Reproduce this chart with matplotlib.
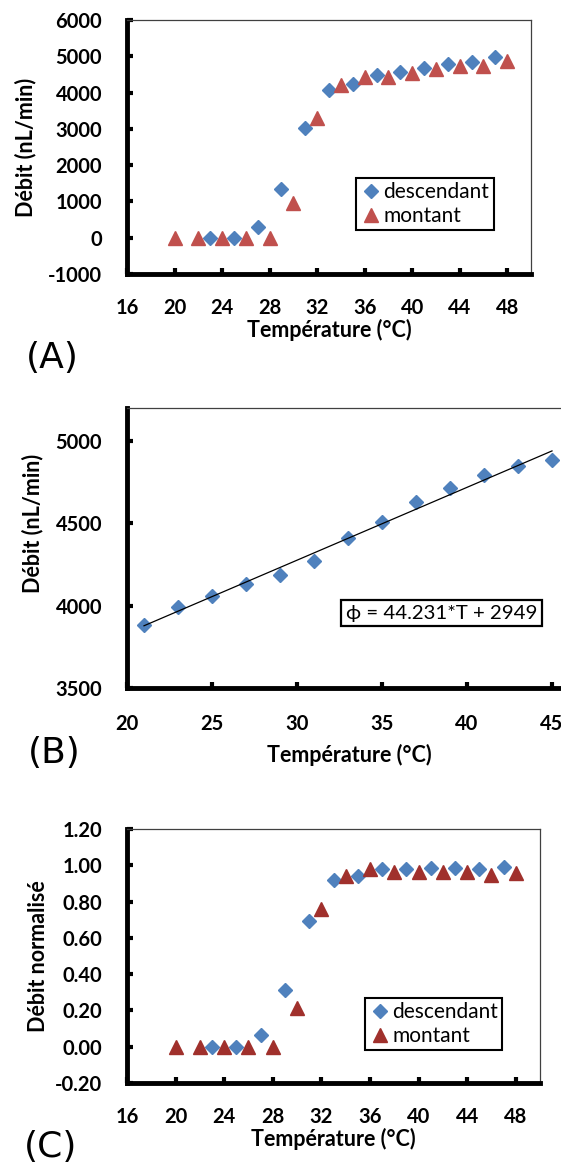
import matplotlib
matplotlib.use("Agg")
import matplotlib.pyplot as plt
import numpy as np

plt.rcParams['font.family'] = ['Lato', 'DejaVu Sans']
plt.rcParams['axes.unicode_minus'] = False

# (A) débit en fonction de la température
temp_desc = [23, 25, 27, 29, 31, 33, 35, 37, 39, 41, 43, 45, 47]
debit_desc = [0, 0, 300, 1330, 3030, 4060, 4240, 4480, 4580, 4670, 4780, 4850, 4990]
temp_mont = [20, 22, 24, 26, 28, 30, 32, 34, 36, 38, 40, 42, 44, 46, 48]
debit_mont = [0, 0, 0, 0, 0, 950, 3300, 4220, 4430, 4430, 4550, 4650, 4740, 4740, 4860]

# (B) zone linéaire + régression
temp_lin = [21, 23, 25, 27, 29, 31, 33, 35, 37, 39, 41, 43, 45]
debit_lin = [3880, 3990, 4060, 4130, 4185, 4270, 4410, 4510, 4630, 4715, 4795, 4850, 4885]
fit_slope, fit_intercept = 44.231, 2949
fit_label = "ϕ = 44.231*T + 2949"

# (C) débit normalisé
norm_desc = [0, 0, 0.066, 0.31, 0.695, 0.92, 0.94, 0.978, 0.98, 0.983, 0.983, 0.978, 0.99]
norm_mont = [0, 0, 0, 0, 0, 0.213, 0.758, 0.941, 0.978, 0.961, 0.961, 0.961, 0.961, 0.947, 0.956]

BLUE = "#4F81BD"
RED = "#C0504D"
DARKRED = "#A0302C"

W, H = 561, 1166
fig = plt.figure(figsize=(W / 100, H / 100), dpi=100)


def px_axes(left, top, right, bottom):
    return fig.add_axes([left / W, 1 - bottom / H, (right - left) / W, (bottom - top) / H])


def style_axes(ax, xpad=17, ypad=16):
    for side in ("left", "bottom"):
        ax.spines[side].set_linewidth(3.5)
        ax.spines[side].set_color("black")
    for side in ("top", "right"):
        ax.spines[side].set_linewidth(0.9)
        ax.spines[side].set_color("#404040")
    ax.tick_params(direction="in", length=4, width=3, top=False, right=False)
    ax.tick_params(axis="x", pad=xpad)
    ax.tick_params(axis="y", pad=ypad)
    for lab in ax.get_xticklabels() + ax.get_yticklabels():
        lab.set_fontweight("bold")
        lab.set_fontsize(14.5)


def set_labels(ax, xlabel, ylabel, xpos, ypos):
    ax.set_xlabel(xlabel, fontsize=15.5, fontweight="bold", va="center", ha="center")
    ax.set_ylabel(ylabel, fontsize=15.5, fontweight="bold", va="center", ha="center")
    ax.xaxis.set_label_coords(*xpos)
    ax.yaxis.set_label_coords(*ypos)


def add_legend(ax, anchor):
    leg = ax.legend(loc="upper left", bbox_to_anchor=anchor, borderaxespad=0,
                    fancybox=False, framealpha=1, edgecolor="black", fontsize=15,
                    handletextpad=0.1, handlelength=1.0, borderpad=0.2,
                    labelspacing=0.2)
    leg.get_frame().set_linewidth(1.5)


# ---- (A) ----
axA = px_axes(127, 20, 531, 274)
axA.plot(temp_desc, debit_desc, "D", color=BLUE, ms=7.5, label="descendant")
axA.plot(temp_mont, debit_mont, "^", color=RED, ms=10.5, label="montant")
axA.set_xlim(16, 50)
axA.set_ylim(-1000, 6000)
axA.set_xticks(range(16, 49, 4))
axA.set_yticks(range(-1000, 6001, 1000))
style_axes(axA, xpad=17, ypad=18)
set_labels(axA, "Température (°C)", "Débit (nL/min)",
           (0.5, -0.22), (-0.25, 0.5))
add_legend(axA, (0.568, 0.378))
fig.text(52 / W, 1 - 358 / H, "(A)", fontsize=26, family="DejaVu Sans",
         ha="center", va="center")

# ---- (B) ----
axB = px_axes(127, 408, 637, 688)
axB.plot(temp_lin, debit_lin, "D", color=BLUE, ms=7.5, zorder=2)
fit_x = np.array([temp_lin[0], temp_lin[-1]])
axB.plot(fit_x, fit_slope * fit_x + fit_intercept, color="black", lw=0.9, zorder=3)
axB.set_xlim(20, 50)
axB.set_ylim(3500, 5200)
axB.set_xticks(range(20, 51, 5))
axB.set_yticks(range(3500, 5001, 500))
style_axes(axB, xpad=19, ypad=18)
set_labels(axB, "Température (°C)", "Débit (nL/min)",
           (0.435, -0.24), (-0.186, 0.586))
axB.text(38.5, 3954, fit_label, fontsize=14.7, ha="center", va="center",
         bbox=dict(boxstyle="square,pad=0.22", fc="white", ec="black", lw=1.6))
fig.text(54 / W, 1 - 753 / H, "(B)", fontsize=26, family="DejaVu Sans",
         ha="center", va="center")

# ---- (C) ----
axC = px_axes(127, 829, 540, 1083)
axC.plot(temp_desc, norm_desc, "D", color=BLUE, ms=7.5, label="descendant")
axC.plot(temp_mont, norm_mont, "^", color=DARKRED, ms=10.5, label="montant")
axC.set_xlim(16, 50)
axC.set_ylim(-0.2, 1.2)
axC.set_xticks(range(16, 49, 4))
axC.set_yticks(np.arange(-0.2, 1.21, 0.2))
axC.yaxis.set_major_formatter(matplotlib.ticker.FormatStrFormatter("%.2f"))
style_axes(axC, xpad=17, ypad=18)
set_labels(axC, "Température (°C)", "Débit normalisé",
           (0.5, -0.22), (-0.215, 0.5))
add_legend(axC, (0.577, 0.335))
fig.text(51 / W, 1 - 1147 / H, "(C)", fontsize=26, family="DejaVu Sans",
         ha="center", va="center")

fig.savefig("out.png", dpi=100)
